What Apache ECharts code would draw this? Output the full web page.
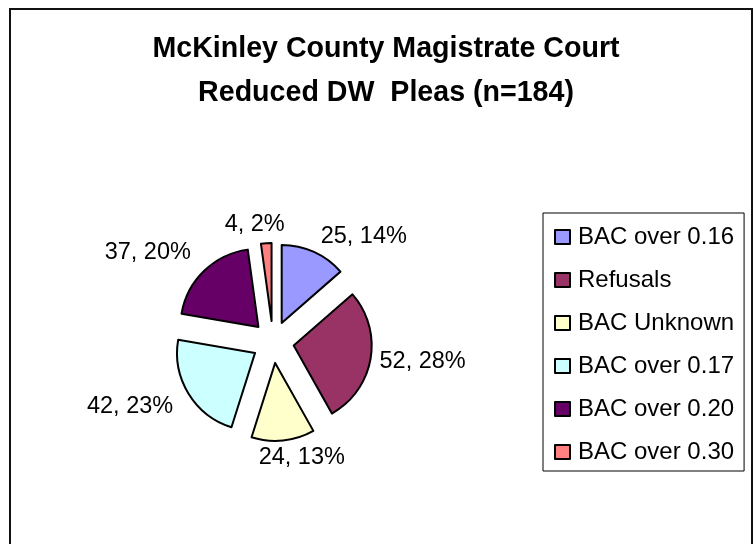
<!DOCTYPE html>
<html>
<head>
<meta charset="utf-8">
<script src="https://cdn.jsdelivr.net/npm/echarts@6/dist/echarts.min.js"></script>
<style>
html,body{margin:0;padding:0;background:#fff;}
#chart{width:755px;height:544px;}
</style>
</head>
<body>
<div id="chart"></div>
<script>
const titleText = 'McKinley County Magistrate Court\nReduced DW  Pleas (n=184)';
const categories = ['BAC over 0.16', 'Refusals', 'BAC Unknown', 'BAC over 0.17', 'BAC over 0.20', 'BAC over 0.30'];
const values = [25, 52, 24, 42, 37, 4];
const colors = ['#9999FF', '#993366', '#FFFFCC', '#CCFFFF', '#660066', '#FF8080'];

const total = values.reduce((a, b) => a + b, 0);
const FONT = "'Liberation Sans', Arial, sans-serif";

const chart = echarts.init(document.getElementById('chart'), null, {renderer: 'canvas'});

const option = {
  animation: false,
  backgroundColor: '#fff',
  title: {
    text: titleText,
    left: 381,
    textAlign: 'center',
    top: 22,
    textStyle: {
      fontFamily: FONT,
      fontSize: 28.6,
      fontWeight: 'bold',
      color: '#000',
      lineHeight: 44
    }
  },
  graphic: [{
    type: 'rect',
    shape: {x: 10, y: 9, width: 742, height: 580},
    style: {fill: 'none', stroke: '#111', lineWidth: 2},
    silent: true
  }],
  legend: {
    orient: 'vertical',
    left: 543,
    top: 213,
    padding: [11, 10, 6, 11],
    itemGap: 17,
    itemWidth: 15,
    itemHeight: 14,
    icon: 'rect',
    borderColor: '#000',
    borderWidth: 1,
    selectedMode: false,
    itemStyle: {borderColor: '#000', borderWidth: 2},
    textStyle: {fontFamily: FONT, fontSize: 24, color: '#000', lineHeight: 26, padding: [0, 0, 0, 3]},
    data: categories
  },
  series: [{
    type: 'pie',
    center: [273, 342],
    radius: 78,
    startAngle: 90,
    clockwise: true,
    selectedMode: 'multiple',
    selectedOffset: 21,
    avoidLabelOverlap: false,
    percentPrecision: 0,
    itemStyle: {borderColor: '#000', borderWidth: 2},
    label: {
      show: true,
      position: 'outside',
      formatter: '{c}, {d}%',
      fontFamily: FONT,
      fontSize: 23.5,
      color: '#000'
    },
    labelLine: {show: false, length: 4, length2: 0},
    emphasis: {disabled: true},
    labelLayout: function (p) {
      const i = p.dataIndex;
      let before = 0;
      for (let k = 0; k < i; k++) before += values[k];
      const mid = (before + values[i] / 2) / total * Math.PI * 2;
      const ux = Math.sin(mid), uy = -Math.cos(mid);
      const w = p.labelRect.width;
      const side = ux < 0 ? -1 : 1;
      const f = Math.max(-1, Math.min(1, 3 * ux));
      const extra = 8 * Math.max(0, -f);
      return {dx: w / 2 * (f - side) + extra * ux, dy: 13 * uy + extra * uy};
    },
    data: categories.map((name, i) => ({
      name: name,
      value: values[i],
      selected: true,
      itemStyle: {color: colors[i]}
    }))
  }]
};
chart.setOption(option);
</script>
</body>
</html>
